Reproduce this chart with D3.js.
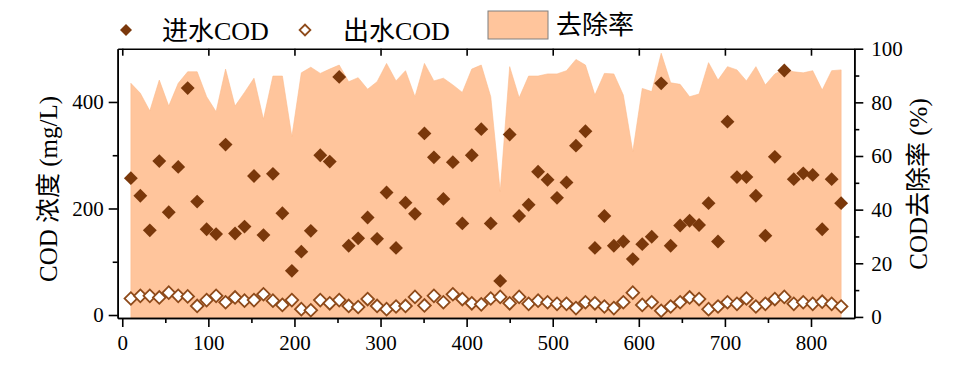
<!DOCTYPE html>
<html>
<head>
<meta charset="utf-8">
<script src="https://cdn.jsdelivr.net/npm/d3@7"></script>
<style>
  body { margin: 0; background: #fff; }
  svg text { font-family: "Liberation Serif", "Noto Sans CJK SC", serif; }
</style>
</head>
<body>
<svg id="chart" width="964" height="375"></svg>
<script>
// operating day of each sample
var days = [10, 21, 32, 43, 54, 65, 76, 87, 98, 109, 120, 131, 142, 153, 164, 175, 186, 197, 208, 219,
  230, 241, 252, 263, 274, 285, 296, 307, 318, 329, 340, 351, 362, 373, 384, 395, 406, 417, 428, 439,
  450, 461, 472, 483, 494, 505, 516, 527, 538, 549, 560, 571, 582, 593, 604, 615, 626, 637, 648, 659,
  670, 681, 692, 703, 714, 725, 736, 747, 758, 769, 780, 791, 802, 813, 824, 835];

// influent COD (mg/L)
var codIn = [257, 224, 159, 289, 193, 278, 426, 213, 161, 152, 320, 153, 166, 261, 150, 265, 191, 83, 119, 158,
  300, 288, 447, 130, 144, 183, 143, 230, 126, 211, 190, 341, 296, 218, 287, 172, 300, 349, 172, 64,
  339, 186, 207, 269, 254, 220, 249, 318, 345, 126, 186, 130, 138, 105, 133, 147, 435, 130, 168, 177,
  169, 210, 138, 363, 259, 259, 224, 149, 297, 459, 255, 266, 263, 161, 255, 210];

// effluent COD (mg/L)
var codOut = [31, 36, 36, 33, 42, 36, 35, 17, 28, 36, 24, 33, 27, 28, 39, 27, 19, 28, 11, 9,
  28, 22, 28, 17, 15, 30, 17, 11, 16, 17, 34, 18, 36, 24, 39, 30, 22, 20, 31, 34,
  22, 34, 21, 27, 24, 21, 21, 13, 24, 22, 16, 13, 24, 42, 19, 24, 8, 16, 24, 33,
  30, 11, 16, 24, 21, 31, 16, 21, 30, 34, 21, 24, 21, 25, 21, 16];

// COD removal rate (%)
var removal = [87.1, 83.4, 76.8, 88.3, 78.6, 87.1, 91.4, 91.4, 82.1, 76.5, 92.4, 78.6, 83.7, 89.0, 73.7, 89.8, 89.8, 67.2, 91.0, 93.1,
  90.8, 92.4, 93.9, 87.7, 89.2, 84.9, 87.7, 94.5, 88.0, 91.8, 82.1, 94.5, 88.0, 89.0, 86.5, 83.7, 92.4, 93.9, 82.1, 46.7,
  93.3, 81.7, 89.8, 89.8, 90.6, 90.6, 91.8, 96.0, 93.9, 82.7, 90.8, 90.6, 82.7, 61.6, 85.2, 84.0, 98.3, 87.3, 86.7, 82.1,
  83.1, 94.8, 88.3, 93.3, 92.1, 88.0, 93.3, 86.5, 90.6, 92.3, 91.4, 91.0, 91.8, 84.6, 91.8, 92.1];

var xMajor = [0, 100, 200, 300, 400, 500, 600, 700, 800];
var xMinor = [50, 150, 250, 350, 450, 550, 650, 750];
var yLeftMajor = [0, 200, 400];
var yLeftMinor = [100, 300];
var yRightMajor = [0, 20, 40, 60, 80, 100];
var yRightMinor = [10, 30, 50, 70, 90];

(function() {
var svg = d3.select("#chart");

var x = d3.scaleLinear().domain([-5.3, 850.3]).range([117.7, 854.3]);
var yL = d3.scaleLinear().domain([-5.6, 500]).range([318, 48.7]);
var yR = d3.scaleLinear().domain([-0.4, 100]).range([318, 48.7]);

var inColor = "#7a380b",
    outColor = "#8e4a1a",
    areaColor = "#ffc59c";

var rows = days.map(function(d, i) {
  return {day: d, cin: codIn[i], cout: codOut[i], rate: removal[i]};
});

// removal rate area
var area = d3.area()
  .x(function(d) { return x(d.day); })
  .y0(yR(yR.domain()[0]))
  .y1(function(d) { return yR(d.rate); });

svg.append("path")
  .datum(rows)
  .attr("d", area)
  .attr("fill", areaColor)
  .attr("stroke", "#fbbb8c")
  .attr("stroke-width", 0.6);

var diamond = d3.symbol().type(d3.symbolSquare).size(96);
var openDiamond = d3.symbol().type(d3.symbolSquare).size(80);

// effluent (open)
svg.append("g").selectAll("path")
  .data(rows)
  .enter().append("path")
    .attr("d", openDiamond)
    .attr("transform", function(d) { return "translate(" + x(d.day) + "," + yL(d.cout) + ") rotate(45)"; })
    .attr("fill", "#fff")
    .attr("stroke", outColor)
    .attr("stroke-width", 1.8);

// influent (filled)
svg.append("g").selectAll("path")
  .data(rows)
  .enter().append("path")
    .attr("d", diamond)
    .attr("transform", function(d) { return "translate(" + x(d.day) + "," + yL(d.cin) + ") rotate(45)"; })
    .attr("fill", inColor);

// axes
function styleAxis(g) {
  g.selectAll(".domain").attr("stroke", "#000").attr("stroke-width", 1.6);
  g.selectAll(".tick line").attr("stroke", "#000").attr("stroke-width", 1.6);
  g.selectAll(".tick text").attr("font-size", "21px").attr("fill", "#000")
    .style("font-family", "'Liberation Serif', serif");
}

var xBottom = svg.append("g")
  .attr("transform", "translate(0," + yL.range()[0] + ")")
  .call(d3.axisBottom(x).tickValues(xMajor).tickSize(9).tickSizeOuter(0).tickPadding(8));
styleAxis(xBottom);

var xBottomMinor = svg.append("g")
  .attr("transform", "translate(0," + yL.range()[0] + ")")
  .call(d3.axisBottom(x).tickValues(xMinor).tickSize(5).tickSizeOuter(0).tickFormat(""));
styleAxis(xBottomMinor);

var xTop = svg.append("g")
  .attr("transform", "translate(0," + yL.range()[1] + ")")
  .call(d3.axisTop(x).tickValues(xMajor).tickSize(-7).tickSizeOuter(0).tickFormat(""));
styleAxis(xTop);

var yLeft = svg.append("g")
  .attr("transform", "translate(" + x.range()[0] + ",0)")
  .call(d3.axisLeft(yL).tickValues(yLeftMajor).tickSize(9).tickSizeOuter(0).tickPadding(5));
styleAxis(yLeft);

var yLeftM = svg.append("g")
  .attr("transform", "translate(" + x.range()[0] + ",0)")
  .call(d3.axisLeft(yL).tickValues(yLeftMinor).tickSize(5).tickSizeOuter(0).tickFormat(""));
styleAxis(yLeftM);

var yRight = svg.append("g")
  .attr("transform", "translate(" + x.range()[1] + ",0)")
  .call(d3.axisRight(yR).tickValues(yRightMajor).tickSize(9).tickSizeOuter(0).tickPadding(8));
styleAxis(yRight);

var yRightM = svg.append("g")
  .attr("transform", "translate(" + x.range()[1] + ",0)")
  .call(d3.axisRight(yR).tickValues(yRightMinor).tickSize(5).tickSizeOuter(0).tickFormat(""));
styleAxis(yRightM);

// axis titles
svg.append("text")
  .attr("transform", "translate(57,189) rotate(-90)")
  .attr("text-anchor", "middle")
  .attr("font-size", "25px")
  .text("COD 浓度 (mg/L)");

svg.append("text")
  .attr("transform", "translate(927,184) rotate(-90)")
  .attr("text-anchor", "middle")
  .attr("font-size", "25px")
  .text("COD去除率 (%)");

// legend
var legend = svg.append("g");
var legDiamond = d3.symbol().type(d3.symbolSquare).size(72);

legend.append("path")
  .attr("d", legDiamond)
  .attr("transform", "translate(126,30) rotate(45)")
  .attr("fill", inColor);
legend.append("text")
  .attr("x", 162).attr("y", 40)
  .attr("font-size", "26px")
  .text("进水COD");

legend.append("path")
  .attr("d", d3.symbol().type(d3.symbolSquare).size(58))
  .attr("transform", "translate(305,30) rotate(45)")
  .attr("fill", "#fff")
  .attr("stroke", outColor)
  .attr("stroke-width", 1.8);
legend.append("text")
  .attr("x", 343).attr("y", 40)
  .attr("font-size", "26px")
  .text("出水COD");

legend.append("rect")
  .attr("x", 488).attr("y", 11)
  .attr("width", 60).attr("height", 28)
  .attr("fill", areaColor)
  .attr("stroke", "#7f7f7f")
  .attr("stroke-width", 1);
legend.append("text")
  .attr("x", 556).attr("y", 34)
  .attr("font-size", "26px")
  .text("去除率");
})();
</script>
</body>
</html>
